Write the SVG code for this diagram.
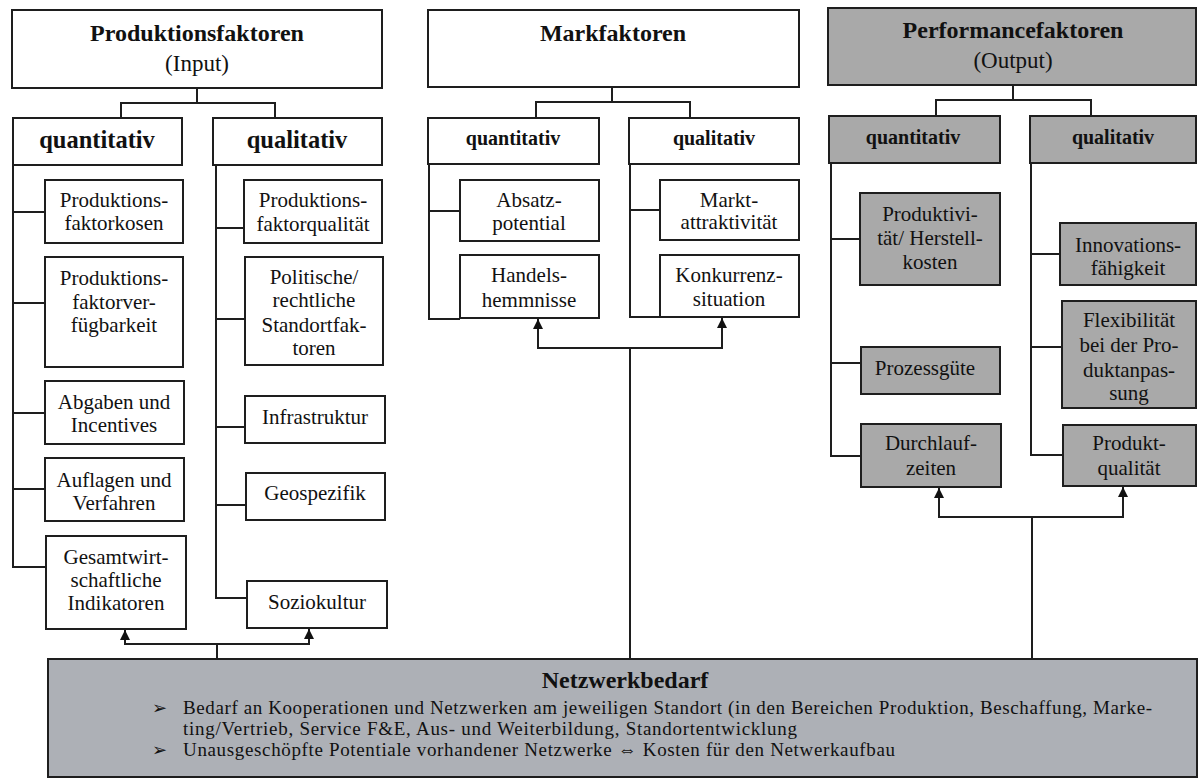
<svg xmlns="http://www.w3.org/2000/svg" width="1198" height="778" viewBox="0 0 1198 778">
<style>
.bx{fill:#fff;stroke:#1e1e1e;stroke-width:2}
.g{fill:#a9a9a9}
.net{fill:#adb0b6;stroke:#1e1e1e;stroke-width:2}
text{font-family:"Liberation Serif","Times New Roman",serif;fill:#111;text-anchor:middle}
.h{font-size:24px;font-weight:bold}
.s{font-size:23px}
.q1{font-size:24.5px;font-weight:bold}
.q2{font-size:20px;font-weight:bold}
.i{font-size:21px}
.b{font-size:19px;text-anchor:start}
.bul{font-family:"DejaVu Sans",sans-serif;font-size:18px;text-anchor:start}
.c path{stroke:#1e1e1e;stroke-width:2;fill:none}
</style>
<defs>
<marker id="ah" viewBox="0 0 10 10" refX="10" refY="5" markerWidth="10" markerHeight="11" markerUnits="userSpaceOnUse" orient="auto"><path d="M0,0 L10,5 L0,10 z" fill="#111"/></marker>
</defs>
<rect width="1198" height="778" fill="#fff"/>

<g id="connectors" class="c">
<path d="M197,88 V103 M121,118 V103 H275 V118"/>
<path d="M13,165 V567 H46 M13,212 H45 M13,303 H45 M13,413 H45 M13,489 H45"/>
<path d="M216,165 V598 H247 M216,228 H244 M216,319 H245 M216,427 H245 M216,505 H246"/>
<path d="M217,659 V644 H125 V630" marker-end="url(#ah)"/>
<path d="M217,644 H309 V629" marker-end="url(#ah)"/>
<path d="M612,87 V102 M536,118 V102 H690 V118"/>
<path d="M429,164 V319 H460 M429,211 H460"/>
<path d="M630,164 V317 H660 M630,210 H660"/>
<path d="M630,659 V348 H538 V319" marker-end="url(#ah)"/>
<path d="M630,348 H722 V318" marker-end="url(#ah)"/>
<path d="M1013,85 V100 M936,116 V100 H1091 V116"/>
<path d="M831,163 V456 H861 M831,239 H860 M831,363 H861"/>
<path d="M1031,163 V455 H1063 M1031,254 H1060 M1031,347 H1062"/>
<path d="M1032,659 V517 H939 V488" marker-end="url(#ah)"/>
<path d="M1032,517 H1123 V487" marker-end="url(#ah)"/>
</g>

<g id="produktionsfaktoren"><rect class="bx" x="12" y="10" width="370" height="78"/><text class="h" x="197" y="41">Produktionsfaktoren</text><text class="s" x="197" y="71">(Input)</text></g>
<g id="pf-quantitativ"><rect class="bx" x="13" y="118" width="169" height="47"/><text class="q1" x="97" y="148">quantitativ</text></g>
<g id="pf-qualitativ"><rect class="bx" x="213" y="118" width="169" height="47"/><text class="q1" x="297" y="148">qualitativ</text></g>
<g id="pf-kosten"><rect class="bx" x="45" y="180" width="138" height="63"/><text class="i" x="114" y="207">Produktions-</text><text class="i" x="114" y="230">faktorkosen</text></g>
<g id="pf-verfuegbarkeit"><rect class="bx" x="45" y="257" width="138" height="110"/><text class="i" x="114" y="285">Produktions-</text><text class="i" x="114" y="309">faktorver-</text><text class="i" x="114" y="332">fügbarkeit</text></g>
<g id="pf-abgaben"><rect class="bx" x="45" y="381" width="139" height="63"/><text class="i" x="114" y="409">Abgaben und</text><text class="i" x="114" y="432">Incentives</text></g>
<g id="pf-auflagen"><rect class="bx" x="45" y="458" width="139" height="63"/><text class="i" x="114" y="487">Auflagen und</text><text class="i" x="114" y="510">Verfahren</text></g>
<g id="pf-gesamt"><rect class="bx" x="46" y="536" width="140" height="93"/><text class="i" x="116" y="564">Gesamtwirt-</text><text class="i" x="116" y="587">schaftliche</text><text class="i" x="116" y="610">Indikatoren</text></g>
<g id="pf-qualitaet"><rect class="bx" x="244" y="180" width="138" height="63"/><text class="i" x="313" y="207">Produktions-</text><text class="i" x="313" y="231">faktorqualität</text></g>
<g id="pf-politisch"><rect class="bx" x="245" y="257" width="138" height="108"/><text class="i" x="314" y="284">Politische/</text><text class="i" x="314" y="307">rechtliche</text><text class="i" x="314" y="332">Standortfak-</text><text class="i" x="314" y="355">toren</text></g>
<g id="pf-infrastruktur"><rect class="bx" x="245" y="396" width="140" height="47"/><text class="i" x="315" y="424">Infrastruktur</text></g>
<g id="pf-geospezifik"><rect class="bx" x="246" y="473" width="139" height="47"/><text class="i" x="315" y="500">Geospezifik</text></g>
<g id="pf-soziokultur"><rect class="bx" x="247" y="581" width="140" height="47"/><text class="i" x="317" y="609">Soziokultur</text></g>

<g id="markfaktoren"><rect class="bx" x="428" y="10" width="371" height="77"/><text class="h" x="613" y="41">Markfaktoren</text></g>
<g id="mf-quantitativ"><rect class="bx" x="428" y="118" width="171" height="46"/><text class="q2" x="513" y="145">quantitativ</text></g>
<g id="mf-qualitativ"><rect class="bx" x="629" y="118" width="170" height="46"/><text class="q2" x="714" y="145">qualitativ</text></g>
<g id="mf-absatz"><rect class="bx" x="460" y="180" width="139" height="61"/><text class="i" x="529" y="207">Absatz-</text><text class="i" x="529" y="230">potential</text></g>
<g id="mf-handel"><rect class="bx" x="460" y="255" width="139" height="63"/><text class="i" x="529" y="282">Handels-</text><text class="i" x="529" y="307">hemmnisse</text></g>
<g id="mf-markt"><rect class="bx" x="660" y="180" width="139" height="60"/><text class="i" x="729" y="207">Markt-</text><text class="i" x="729" y="229">attraktivität</text></g>
<g id="mf-konkurrenz"><rect class="bx" x="660" y="255" width="139" height="62"/><text class="i" x="729" y="282">Konkurrenz-</text><text class="i" x="729" y="306">situation</text></g>

<g id="performancefaktoren"><rect class="bx g" x="828" y="8" width="368" height="77"/><text class="h" x="1013" y="38">Performancefaktoren</text><text class="s" x="1013" y="68">(Output)</text></g>
<g id="pe-quantitativ"><rect class="bx g" x="829" y="116" width="171" height="47"/><text class="q2" x="913" y="144">quantitativ</text></g>
<g id="pe-qualitativ"><rect class="bx g" x="1030" y="116" width="166" height="47"/><text class="q2" x="1113" y="144">qualitativ</text></g>
<g id="pe-produktivitaet"><rect class="bx g" x="860" y="193" width="140" height="92"/><text class="i" x="930" y="221">Produktivi-</text><text class="i" x="930" y="245">tät/ Herstell-</text><text class="i" x="930" y="269">kosten</text></g>
<g id="pe-prozess"><rect class="bx g" x="861" y="347" width="139" height="47"/><text class="i" x="925" y="375">Prozessgüte</text></g>
<g id="pe-durchlauf"><rect class="bx g" x="861" y="424" width="140" height="63"/><text class="i" x="931" y="450">Durchlauf-</text><text class="i" x="931" y="475">zeiten</text></g>
<g id="pe-innovation"><rect class="bx g" x="1060" y="223" width="136" height="62"/><text class="i" x="1128" y="252">Innovations-</text><text class="i" x="1128" y="275">fähigkeit</text></g>
<g id="pe-flexibilitaet"><rect class="bx g" x="1062" y="301" width="134" height="107"/><text class="i" x="1129" y="327">Flexibilität</text><text class="i" x="1129" y="352">bei der Pro-</text><text class="i" x="1129" y="377">duktanpas-</text><text class="i" x="1129" y="400">sung</text></g>
<g id="pe-produktqualitaet"><rect class="bx g" x="1063" y="425" width="133" height="61"/><text class="i" x="1129" y="450">Produkt-</text><text class="i" x="1129" y="475">qualität</text></g>

<g id="netzwerkbedarf"><rect class="net" x="48" y="659" width="1149" height="118"/>
<text class="h" x="625" y="688">Netzwerkbedarf</text>
<text class="bul" x="152" y="714">➢</text>
<text class="b" x="183" y="714" textLength="969">Bedarf an Kooperationen und Netzwerken am jeweiligen Standort (in den Bereichen Produktion, Beschaffung, Marke-</text>
<text class="b" x="183" y="735" textLength="614">ting/Vertrieb, Service F&amp;E, Aus- und Weiterbildung, Standortentwicklung</text>
<text class="bul" x="152" y="756">➢</text>
<text class="b" x="183" y="756" textLength="712">Unausgeschöpfte Potentiale vorhandener Netzwerke ⇔ Kosten für den Netwerkaufbau</text>
</g>
</svg>
